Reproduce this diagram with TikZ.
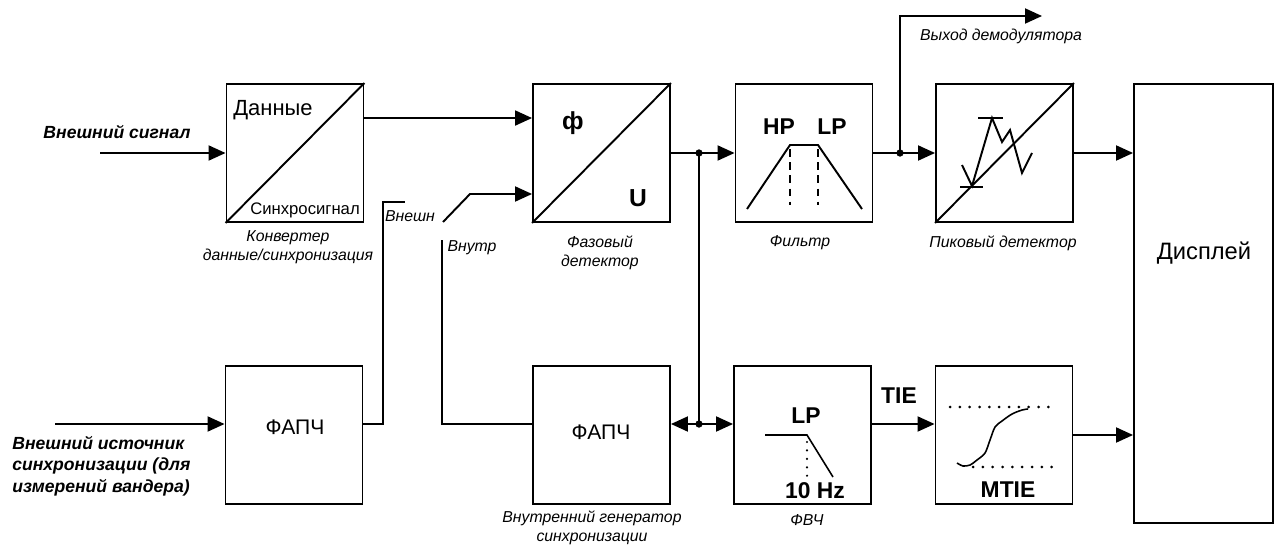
\documentclass[tikz,border=0pt]{standalone}
\usepackage{fontspec}
\setmainfont{Liberation Sans}
\usetikzlibrary{arrows.meta,calc}
\begin{document}
\begin{tikzpicture}[x=0.02cm,y=-0.02cm,
  blk/.style={draw, line width=1.1pt, minimum width=2.74cm, minimum height=2.76cm, inner sep=0pt},
  wire/.style={line width=1.1pt},
  arr/.style={wire, -{Triangle[length=0.34cm,width=0.3cm]}},
  lbl/.style={font=\fontsize{9}{11}\selectfont\itshape, inner sep=0pt, align=center},
  blbl/.style={font=\fontsize{10}{12.2}\selectfont\bfseries\itshape, inner sep=0pt},
  big/.style={font=\fontsize{12}{14}\selectfont, inner sep=0pt},
  bigb/.style={font=\fontsize{13}{15}\selectfont\bfseries, inner sep=0pt},
  jdot/.style={circle, fill=black, draw=black, inner sep=0pt, minimum size=0.13cm},
  dotl/.style={line width=1.7pt, line cap=round, dash pattern=on 0pt off 5.6pt},
  thin/.style={line width=0.9pt}]
\useasboundingbox (0,0) rectangle (1280,544);

% boxes
\node[blk] (conv) at (295,153) {};
\node[blk] (pd) at (601.5,153) {};
\node[blk] (filt) at (804,153) {};
\node[blk] (peak) at (1004.5,153) {};
\node[blk, minimum width=2.78cm, minimum height=8.78cm] (disp) at (1203.5,303.5) {};
\node[blk] (pll1) at (294,435) {};
\node[blk] (pll2) at (601.5,435) {};
\node[blk] (lpf) at (802.5,435) {};
\node[blk] (mtie) at (1004,435) {};

% box contents
\draw[wire] (conv.south west) -- (conv.north east);
\node[big, font=\fontsize{12.5}{14}\selectfont] (tdata) at (273,110) {Данные};
\node[inner sep=0pt, font=\fontsize{9.5}{11}\selectfont] (tsync) at (305,210) {Синхросигнал};

\draw[wire] (pd.south west) -- (pd.north east);
\node[bigb, font=\fontsize{14}{16}\selectfont\bfseries] (tphi) at (573,123) {ф};
\node[bigb, font=\fontsize{14}{16}\selectfont\bfseries] (tu) at (638,198) {U};

\node[bigb] (thp) at (779,127) {HP};
\node[bigb] (tlp) at (832,127) {LP};
\draw[wire] (747,209) -- (790,145) -- (818,145) -- (862,209);
\draw[wire, dash pattern=on 4.5pt off 3pt] (790,149) -- (790,205);
\draw[wire, dash pattern=on 4.5pt off 3pt] (818,149) -- (818,205);

\draw[wire] (peak.south west) -- (peak.north east);
\draw[wire] (962,165) -- (972,186) -- (992,118) -- (1002,142) -- (1010,130) -- (1022,173) -- (1032,153);
\draw[wire] (978,118) -- (1003,118);
\draw[wire] (960,187) -- (983,187);

\node[big, font=\fontsize{13.5}{16}\selectfont] (tdisp) at (1204,253) {Дисплей};
\node[big] (tpll1) at (295,427) {ФАПЧ};
\node[big] (tpll2) at (601,432) {ФАПЧ};

\node[bigb] (tlp2) at (806,416) {LP};
\draw[thin] (765,435) -- (807,435) -- (833,477);
\draw[dotl, line width=1.4pt, dash pattern=on 0pt off 4.8pt] (807,442) -- (807,478);
\node[bigb] (t10) at (815,491) {10 Hz};

\draw[dotl] (950,407) -- (1053,407);
\draw[dotl] (973,467) -- (1055,467);
\draw[thin] plot[smooth] coordinates {(957,463) (963,466) (970,465) (977,460) (985,453) (990,440) (995,427) (1002,421) (1012,414) (1022,410) (1028,409)};
\node[bigb] (tmtie) at (1008,490) {MTIE};

% junctions and coordinates
\node[jdot] (j1) at (699,153) {};
\node[jdot] (j2) at (699,424) {};
\node[jdot] (j3) at (900,153) {};
\coordinate (in1) at (100,153);
\coordinate (in2) at (55,424);
\coordinate (ext) at (383,202);
\coordinate (extend) at (405,202);
\coordinate (int) at (442,240);
\coordinate (swa) at (443,222);
\coordinate (swb) at (470,194);
\coordinate (dmout) at (1042,16);

% connectors
\draw[arr] (in1) -- (conv.west);
\draw[arr] ($(conv.north east)!0.25!(conv.south east)$) -- ($(pd.north west)!0.25!(pd.south west)$);
\draw[arr] (swa) -- (swb) -- (swb -| pd.west);
\draw[arr] (in2) -- (in2 -| pll1.west);
\draw[wire] (pll1.east |- j2) -| (ext) -- (extend);
\draw[wire] (int) |- (pll2.west |- j2);
\draw[wire] (pd.east) -- (j1.center);
\draw[arr] (j1.center) -- (filt.west);
\draw[wire] (j1.center) -- (j2.center);
\draw[arr] (j2.center) -- (j2 -| pll2.east);
\draw[arr] (j2.center) -- (j2 -| lpf.west);
\draw[wire] (filt.east) -- (j3.center);
\draw[arr] (j3.center) -- (peak.west);
\draw[arr] (j3.center) |- (dmout);
\draw[arr] (peak.east) -- (peak.east -| disp.west);
\draw[arr] (j2 -| lpf.east) -- (j2 -| mtie.west);
\draw[arr] (mtie.east) -- (mtie.east -| disp.west);

% labels
\node[blbl] (lin1) at (117,132) {Внешний сигнал};
\node[blbl, anchor=west, align=left] (lin2) at (12,466) {Внешний источник\\синхронизации (для\\измерений вандера)};
\node[lbl] (lconv) at (288,247) {Конвертер\\данные/синхронизация};
\node[lbl] (lpd) at (600,253) {Фазовый\\детектор};
\node[lbl] (lfilt) at (800,243) {Фильтр};
\node[lbl] (lpeak) at (1003,243) {Пиковый детектор};
\node[lbl] (ldm) at (1001,36) {Выход демодулятора};
\node[lbl] (lpll2) at (592,528) {Внутренний генератор\\синхронизации};
\node[lbl] (llpf) at (807,520) {ФВЧ};
\node[lbl] (lext) at (410,216) {Внешн};
\node[lbl] (lint) at (472,248) {Внутр};
\node[bigb] (ltie) at (899,396) {TIE};
\end{tikzpicture}
\end{document}
